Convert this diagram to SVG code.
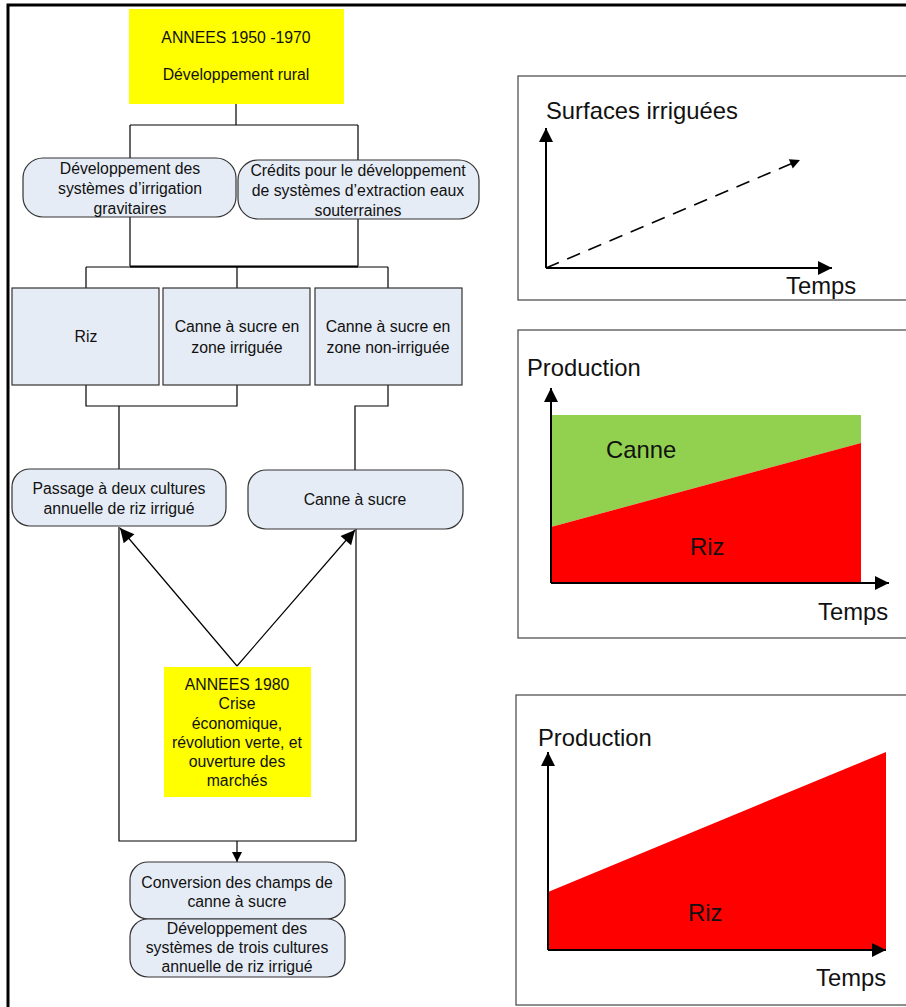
<svg xmlns="http://www.w3.org/2000/svg" width="906" height="1007" viewBox="0 0 906 1007">
<style>
text{font-family:"Liberation Sans",Arial,sans-serif;fill:#111}
.s{font-size:15.8px;text-anchor:middle}
.b{font-size:23.8px}
.node{fill:#e6ecf6;stroke:#333;stroke-width:1.2}
.yel{fill:#ffff00}
.ln{fill:none;stroke:#000;stroke-width:1.2}
.ax{fill:none;stroke:#000;stroke-width:2}
.panel{fill:#fff;stroke:#444;stroke-width:1.2}
</style>
<defs>
<marker id="ah" viewBox="0 0 10 10" refX="10" refY="5" markerWidth="12" markerHeight="10" markerUnits="userSpaceOnUse" orient="auto"><path d="M0,0 L10,5 L0,10 z" fill="#000"/></marker>
<marker id="axh" viewBox="0 0 10 10" refX="10" refY="5" markerWidth="18" markerHeight="14" markerUnits="userSpaceOnUse" orient="auto"><path d="M0,0 L10,5 L0,10 z" fill="#000"/></marker>
</defs>
<rect width="906" height="1007" fill="#fff"/>
<path d="M8,1007 V5 H906" fill="none" stroke="#000" stroke-width="3"/>

<g id="connectors">
<path class="ln" d="M236,104 V125 M130,125 H358 M130,125 V158 M358,125 V160"/>
<path class="ln" d="M130,217 V266 M358,219 V266 M86,267 V288 M237,267 V288 M388,267 V288"/>
<path d="M130,266.5 H358" stroke="#000" stroke-width="2"/>
<path class="ln" d="M86,267 H388"/>
<path class="ln" d="M86,385 V406 H237 V385 M119,406 V469"/>
<path class="ln" d="M388,385 V406 H355 V470"/>
<path class="ln" d="M119,527 V841 H356 V529"/>
<path class="ln" d="M237,666 L120,528" marker-end="url(#axh)"/>
<path class="ln" d="M237,666 L355,530" marker-end="url(#axh)"/>
<path class="ln" d="M237,841 V862" marker-end="url(#ah)"/>
</g>

<g id="n-1950">
<rect class="yel" x="129" y="9" width="215" height="95"/>
<text class="s" x="236" y="43">ANNEES 1950 -1970</text>
<text class="s" x="236" y="80">Développement rural</text>
</g>
<g id="n-gravitaires">
<rect class="node" x="23" y="158" width="213" height="59" rx="20"/>
<text class="s" x="130" y="174">Développement des</text>
<text class="s" x="130" y="194">systèmes d’irrigation</text>
<text class="s" x="130" y="214">gravitaires</text>
</g>
<g id="n-credits">
<rect class="node" x="238" y="160" width="241" height="59" rx="20"/>
<text class="s" x="358" y="176">Crédits pour le développement</text>
<text class="s" x="358" y="196">de systèmes d’extraction eaux</text>
<text class="s" x="358" y="216">souterraines</text>
</g>
<g id="n-riz">
<rect class="node" x="12" y="288" width="147" height="97"/>
<text class="s" x="86" y="342">Riz</text>
</g>
<g id="n-canne-irr">
<rect class="node" x="163" y="288" width="147" height="97"/>
<text class="s" x="237" y="332">Canne à sucre en</text>
<text class="s" x="237" y="353">zone irriguée</text>
</g>
<g id="n-canne-nonirr">
<rect class="node" x="315" y="288" width="147" height="97"/>
<text class="s" x="388" y="332">Canne à sucre en</text>
<text class="s" x="388" y="353">zone non-irriguée</text>
</g>
<g id="n-passage">
<rect class="node" x="12" y="469" width="214" height="57" rx="18"/>
<text class="s" x="119" y="494">Passage à deux cultures</text>
<text class="s" x="119" y="514">annuelle de riz irrigué</text>
</g>
<g id="n-canne">
<rect class="node" x="248" y="470" width="215" height="59" rx="18"/>
<text class="s" x="355" y="505">Canne à sucre</text>
</g>
<g id="n-1980">
<rect class="yel" x="164" y="667" width="147" height="130"/>
<text class="s" x="237" y="690">ANNEES 1980</text>
<text class="s" x="237" y="709">Crise</text>
<text class="s" x="237" y="729">économique,</text>
<text class="s" x="237" y="748">révolution verte, et</text>
<text class="s" x="237" y="767">ouverture des</text>
<text class="s" x="237" y="786">marchés</text>
</g>
<g id="n-conversion">
<rect class="node" x="130" y="862" width="215" height="57" rx="18"/>
<text class="s" x="237" y="888">Conversion des champs de</text>
<text class="s" x="237" y="907">canne à sucre</text>
</g>
<g id="n-trois">
<rect class="node" x="130" y="919" width="215" height="58" rx="18"/>
<text class="s" x="237" y="934">Développement des</text>
<text class="s" x="237" y="953">systèmes de trois cultures</text>
<text class="s" x="237" y="972">annuelle de riz irrigué</text>
</g>

<g id="panel-surfaces">
<rect class="panel" x="518" y="76" width="400" height="224"/>
<path class="ax" d="M546,268 V128" marker-end="url(#axh)"/>
<path class="ax" d="M546,268 H832" marker-end="url(#axh)"/>
<path d="M546,268 L800,160" fill="none" stroke="#000" stroke-width="1.5" stroke-dasharray="14,9" marker-end="url(#ah)"/>
<text class="b" x="546" y="119">Surfaces irriguées</text>
<text class="b" x="786" y="294">Temps</text>
</g>

<g id="panel-canne-riz">
<rect class="panel" x="518" y="330" width="400" height="308"/>
<polygon points="551,415 861,415 861,443 551,527" fill="#92d050"/>
<polygon points="551,527 861,443 861,583 551,583" fill="#ff0000"/>
<path class="ax" d="M551,583 V388" marker-end="url(#axh)"/>
<path class="ax" d="M551,583 H889" marker-end="url(#axh)"/>
<text class="b" x="527" y="376">Production</text>
<text class="b" x="606" y="458">Canne</text>
<text class="b" x="690" y="555">Riz</text>
<text class="b" x="818" y="620">Temps</text>
</g>

<g id="panel-riz">
<rect class="panel" x="516" y="695" width="400" height="310"/>
<polygon points="548,892 886,752 886,949 548,949" fill="#ff0000"/>
<path class="ax" d="M548,950 V752" marker-end="url(#axh)"/>
<path class="ax" d="M548,950 H886" marker-end="url(#axh)"/>
<text class="b" x="538" y="746">Production</text>
<text class="b" x="688" y="921">Riz</text>
<text class="b" x="816" y="986">Temps</text>
</g>
</svg>
